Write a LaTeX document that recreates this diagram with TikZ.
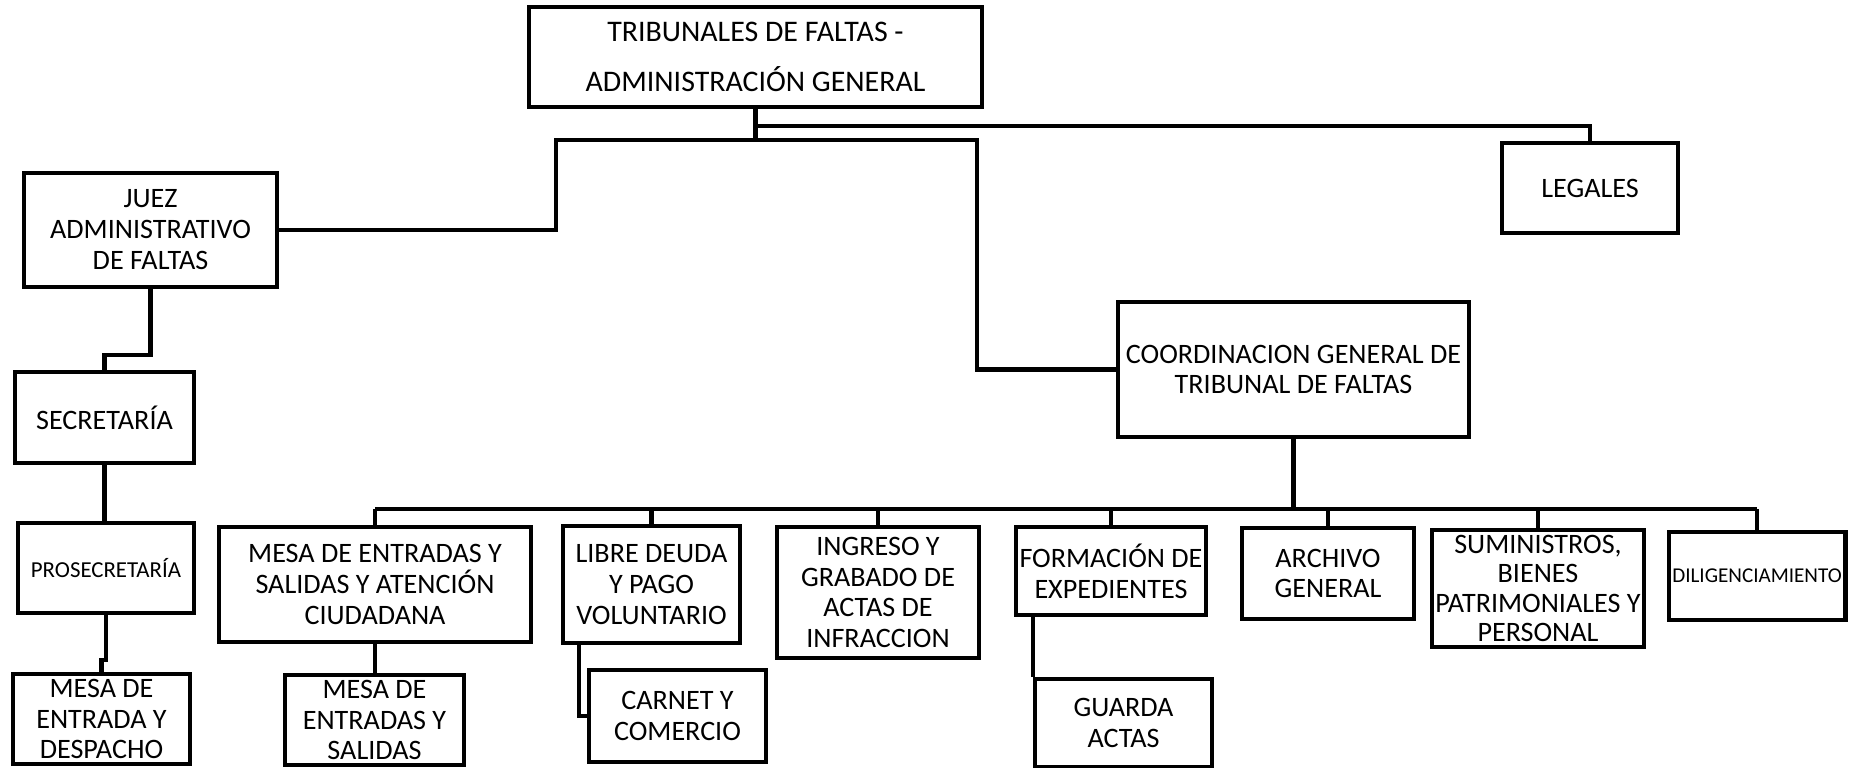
\documentclass[tikz,border=0pt]{standalone}
\usepackage{fontspec}
\setmainfont{Carlito}
\usetikzlibrary{calc}
\tikzset{
	unidad/.style={draw, line width=1.3pt, inner sep=1pt, align=center, font=\fontsize{8}{8.8}\selectfont},
	enlace/.style={line width=1.2pt},
}

\begin{document}
\begin{tikzpicture}[x=0.01cm, y=-0.01cm]
			%%%%% START %%%%%
			\useasboundingbox (0,0) rectangle (1858,768);
			
			\node[unidad, minimum width=4.53cm, minimum height=1cm, font=\fontsize{8.5}{14}\selectfont] (tribunales) at (755.5,57) {TRIBUNALES DE FALTAS -\\ADMINISTRACIÓN GENERAL};
			\node[unidad, minimum width=1.76cm, minimum height=0.9cm] (legales) at (1590,188) {LEGALES};
			\node[unidad, minimum width=2.53cm, minimum height=1.14cm] (juez) at (150.5,230) {JUEZ\\ADMINISTRATIVO\\DE FALTAS};
			\node[unidad, minimum width=3.51cm, minimum height=1.35cm, font=\fontsize{8}{8.5}\selectfont] (coordinacion) at (1293.5,369.5) {COORDINACION GENERAL DE\\TRIBUNAL DE FALTAS};
			
			\node[unidad, minimum width=1.79cm, minimum height=0.91cm] (secretaria) at (104.5,417.5) {SECRETARÍA};
			\node[unidad, minimum width=1.76cm, minimum height=0.9cm, font=\fontsize{6.5}{7.5}\selectfont] (prosecretaria) at (106,568) {PROSECRETARÍA};
			\node[unidad, minimum width=1.77cm, minimum height=0.9cm] (despacho) at (101.5,719) {MESA DE\\ENTRADA Y\\DESPACHO};
			
			\node[unidad, minimum width=3.12cm, minimum height=1.15cm] (mesa) at (375,584.5) {MESA DE ENTRADAS Y\\SALIDAS Y ATENCIÓN\\CIUDADANA};
			\node[unidad, minimum width=1.79cm, minimum height=0.9cm] (salidas) at (374.5,720) {MESA DE\\ENTRADAS Y\\SALIDAS};
			\node[unidad, minimum width=1.77cm, minimum height=1.17cm] (libre) at (651.5,584.5) {LIBRE DEUDA\\Y PAGO\\VOLUNTARIO};
			\node[unidad, minimum width=1.77cm, minimum height=0.92cm] (carnet) at (677.5,716) {CARNET Y\\COMERCIO};
			\node[unidad, minimum width=2.02cm, minimum height=1.31cm] (ingreso) at (878,592.5) {INGRESO Y\\GRABADO DE\\ACTAS DE\\INFRACCION};
			\node[unidad, minimum width=1.9cm, minimum height=0.88cm] (formacion) at (1111,571) {FORMACIÓN DE\\EXPEDIENTES};
			\node[unidad, minimum width=1.77cm, minimum height=0.88cm] (guarda) at (1123.5,723) {GUARDA\\ACTAS};
			\node[unidad, minimum width=1.72cm, minimum height=0.91cm] (archivo) at (1328,573.5) {ARCHIVO\\GENERAL};
			\node[unidad, minimum width=2.04cm, minimum height=1.17cm, font=\fontsize{8}{8.3}\selectfont] (suministros) at (1538,588.5) {SUMINISTROS,\\BIENES\\PATRIMONIALES Y\\PERSONAL};
			\node[unidad, minimum width=1.76cm, minimum height=0.88cm, font=\fontsize{6}{7}\selectfont] (diligenciamiento) at (1757,576) {DILIGENCIAMIENTO};
			
			\coordinate (ramaA) at (556,140);
			\coordinate (ramaB) at (977,140);
			\coordinate (ramaL) at (0,126);
			\coordinate (bus) at (0,509);
			
			\draw[enlace] (tribunales.south) -- (tribunales.south |- ramaA);
			\draw[enlace] (tribunales.south) |- (legales.north |- ramaL) -- (legales.north);
			\draw[enlace] (juez.east) -| (ramaA) -- (ramaB) |- (coordinacion.west);
			
			\draw[enlace] (juez.south) -- ++(0,66) -| (secretaria.north);
			\draw[enlace] (secretaria.south) -- (secretaria.south |- prosecretaria.north);
			\draw[enlace] (prosecretaria.south) -- ++(0,45) -| (despacho.north);
			
			\draw[enlace] (coordinacion.south) -- (coordinacion.south |- bus);
			\draw[enlace] (mesa.north |- bus) -- (diligenciamiento.north |- bus);
			\draw[enlace] (mesa.north) -- (mesa.north |- bus);
			\draw[enlace] (libre.north) -- (libre.north |- bus);
			\draw[enlace] (ingreso.north) -- (ingreso.north |- bus);
			\draw[enlace] (formacion.north) -- (formacion.north |- bus);
			\draw[enlace] (archivo.north) -- (archivo.north |- bus);
			\draw[enlace] (suministros.north) -- (suministros.north |- bus);
			\draw[enlace] (diligenciamiento.north) -- (diligenciamiento.north |- bus);
			
			\draw[enlace] (mesa.south) -- (mesa.south |- salidas.north);
			\draw[enlace] ($(libre.south west)+(18,0)$) |- (carnet.west);
			\draw[enlace] (formacion.south -| guarda.west) -- (guarda.north west);
			
			%%%%% END %%%%%
		\end{tikzpicture}
\end{document}
